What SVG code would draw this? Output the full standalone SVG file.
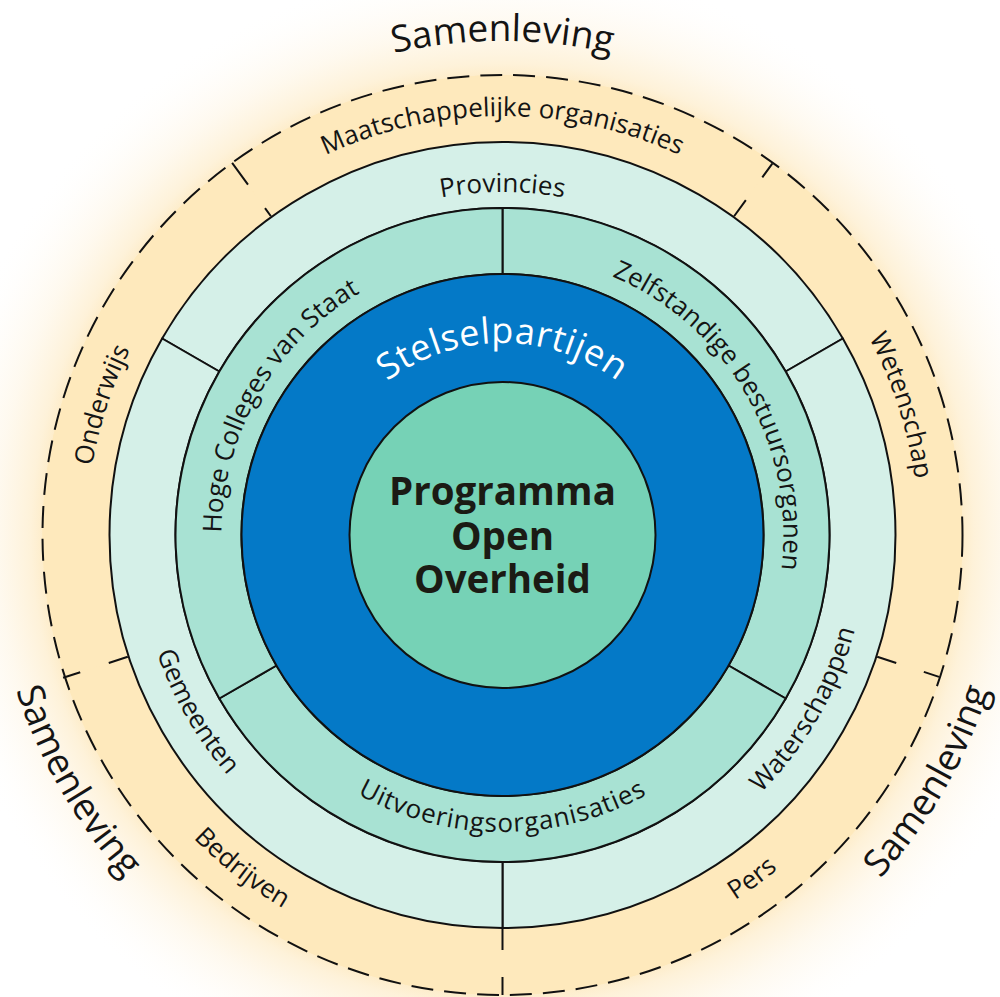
<svg xmlns="http://www.w3.org/2000/svg" width="1000" height="997" viewBox="0 0 1000 997">
  <defs>
    <radialGradient id="glow" cx="502.5" cy="535" r="575" gradientUnits="userSpaceOnUse">
      <stop offset="0.79" stop-color="#fde7ba" stop-opacity="0.85"/>
      <stop offset="0.82" stop-color="#fde7ba" stop-opacity="0.55"/>
      <stop offset="0.88" stop-color="#fdeac4" stop-opacity="0.28"/>
      <stop offset="0.95" stop-color="#fdf0d8" stop-opacity="0.08"/>
      <stop offset="1" stop-color="#ffffff" stop-opacity="0"/>
    </radialGradient>
    <!-- text arcs around centre (502.5, 535); clockwise = tops outward, counter-clockwise = tops inward -->
    <path id="arc-sam-top" d="M16.01,449.22 A494,494 0 0 1 988.99,449.22"/>
    <path id="arc-sam-right" d="M326.36,1018.94 A516,516 0 0 0 833.54,140.49"/>
    <path id="arc-sam-left" d="M171.46,140.49 A516,516 0 0 0 678.64,1018.94"/>
    <path id="arc-stelsel" d="M313.42,501.66 A192,192 0 0 1 691.58,501.66"/>
    <path id="arc-maatsch" d="M89.87,462.24 A419,419 0 0 1 915.13,462.24"/>
    <path id="arc-onderwijs" d="M307.20,902.31 A416,416 0 0 1 560.40,123.05"/>
    <path id="arc-wetenschap" d="M444.60,123.05 A416,416 0 0 1 697.80,902.31"/>
    <path id="arc-pers" d="M201.71,846.47 A433,433 0 0 0 891.68,345.19"/>
    <path id="arc-bedrijven" d="M120.18,331.72 A433,433 0 0 0 792.23,856.78"/>
    <path id="arc-provincies" d="M164.71,475.44 A343,343 0 0 1 840.29,475.44"/>
    <path id="arc-gemeenten" d="M267.88,255.39 A365,365 0 0 0 627.34,877.99"/>
    <path id="arc-waterschappen" d="M377.66,877.99 A365,365 0 0 0 737.12,255.39"/>
    <path id="arc-zbo" d="M406.39,270.95 A281,281 0 0 1 683.12,750.26"/>
    <path id="arc-hcvs" d="M321.88,750.26 A281,281 0 0 1 598.61,270.95"/>
    <path id="arc-uitvoering" d="M210.01,586.57 A297,297 0 0 0 794.99,586.57"/>
  </defs>
  <style>
    .lbl { font-family: "Open Sans", "Noto Sans", "DejaVu Sans", sans-serif; font-size: 26px; fill: #141414; }
    .wide { letter-spacing: 0.8px; }
    .sam { font-size: 37px; }
    .stelsel { font-size: 36px; fill: #ffffff; letter-spacing: 0.6px; }
    .core { font-family: "Open Sans", "Noto Sans", "DejaVu Sans", sans-serif; font-weight: 700; font-size: 38.5px; fill: #1b1b14; text-anchor: middle; }
    .outer { fill: #fee9bc; }
    .light { fill: #d5f0e8; stroke: #111; stroke-width: 2; stroke-linejoin: round; }
    .mid { fill: #a8e2d3; stroke: #111; stroke-width: 2; stroke-linejoin: round; }
    .blue { fill: #0479c7; stroke: #111; stroke-width: 2; }
    .core-disc { fill: #76d2b6; stroke: #111; stroke-width: 2; }
    .dash { stroke: #111; stroke-width: 2; fill: none; }
  </style>

  <rect width="1000" height="997" fill="#ffffff"/>

  <!-- soft halo around the society ring -->
  <circle cx="502.5" cy="535" r="575" fill="url(#glow)"/>

  <!-- society ring (orange) -->
  <circle cx="502.5" cy="535" r="460" class="outer"/>
  <g id="maatschappelijke-organisaties">
    <path class="outer" d="M232.12,162.85 A460,460 0 0 1 772.88,162.85 L733.50,217.06 A393,393 0 0 0 271.50,217.06 Z"/>
    <text class="lbl"><textPath href="#arc-maatsch" startOffset="50%" text-anchor="middle">Maatschappelijke organisaties</textPath></text>
  </g>
  <g id="wetenschap">
    <path class="outer" d="M772.88,162.85 A460,460 0 0 1 939.99,677.15 L876.27,656.44 A393,393 0 0 0 733.50,217.06 Z"/>
    <text class="lbl"><textPath href="#arc-wetenschap" startOffset="50%" text-anchor="middle">Wetenschap</textPath></text>
  </g>
  <g id="pers">
    <path class="outer" d="M939.99,677.15 A460,460 0 0 1 502.5,995 L502.5,928 A393,393 0 0 0 876.27,656.44 Z"/>
    <text class="lbl"><textPath href="#arc-pers" startOffset="50%" text-anchor="middle">Pers</textPath></text>
  </g>
  <g id="bedrijven">
    <path class="outer" d="M502.5,995 A460,460 0 0 1 65.01,677.15 L128.73,656.44 A393,393 0 0 0 502.5,928 Z"/>
    <text class="lbl"><textPath href="#arc-bedrijven" startOffset="50%" text-anchor="middle">Bedrijven</textPath></text>
  </g>
  <g id="onderwijs">
    <path class="outer" d="M65.01,677.15 A460,460 0 0 1 232.12,162.85 L271.50,217.06 A393,393 0 0 0 128.73,656.44 Z"/>
    <text class="lbl"><textPath href="#arc-onderwijs" startOffset="50%" text-anchor="middle">Onderwijs</textPath></text>
  </g>

  <!-- dashed boundary and dashed sector dividers -->
  <g id="connectors">
    <circle cx="502.5" cy="535" r="460" class="dash" stroke-dasharray="22 11"/>
    <path class="dash" d="M232.12,162.85 L247.99,184.70 M265.03,208.16 L270.91,216.25"/>
    <path class="dash" d="M772.29,163.66 L762.30,177.41 M745.84,200.07 L734.09,216.25"/>
    <path class="dash" d="M877.22,656.75 L896.24,662.93 M923.82,671.90 L939.04,676.84"/>
    <path class="dash" d="M502.5,928 L502.5,950 M502.5,977 L502.5,995"/>
    <path class="dash" d="M63.11,677.77 L80.23,672.20 M108.76,662.93 L127.78,656.75"/>
  </g>

  <!-- government tier (light green) -->
  <g id="provincies">
    <path class="light" d="M162.15,338.5 A393,393 0 0 1 842.85,338.5 L785.69,371.5 A327,327 0 0 0 219.31,371.5 Z"/>
    <text class="lbl"><textPath href="#arc-provincies" startOffset="50%" text-anchor="middle">Provincies</textPath></text>
  </g>
  <g id="waterschappen">
    <path class="light" d="M842.85,338.5 A393,393 0 0 1 502.5,928 L502.5,862 A327,327 0 0 0 785.69,371.5 Z"/>
    <text class="lbl"><textPath href="#arc-waterschappen" startOffset="50%" text-anchor="middle">Waterschappen</textPath></text>
  </g>
  <g id="gemeenten">
    <path class="light" d="M502.5,928 A393,393 0 0 1 162.15,338.5 L219.31,371.5 A327,327 0 0 0 502.5,862 Z"/>
    <text class="lbl"><textPath href="#arc-gemeenten" startOffset="50%" text-anchor="middle">Gemeenten</textPath></text>
  </g>

  <!-- central-government tier (mid green) -->
  <g id="zelfstandige-bestuursorganen">
    <path class="mid" d="M502.5,208 A327,327 0 0 1 785.69,698.5 L728.53,665.5 A261,261 0 0 0 502.5,274 Z"/>
    <text class="lbl"><textPath href="#arc-zbo" startOffset="50%" text-anchor="middle">Zelfstandige bestuursorganen</textPath></text>
  </g>
  <g id="uitvoeringsorganisaties">
    <path class="mid" d="M785.69,698.5 A327,327 0 0 1 219.31,698.5 L276.47,665.5 A261,261 0 0 0 728.53,665.5 Z"/>
    <text class="lbl wide"><textPath href="#arc-uitvoering" startOffset="50%" text-anchor="middle">Uitvoeringsorganisaties</textPath></text>
  </g>
  <g id="hoge-colleges-van-staat">
    <path class="mid" d="M219.31,698.5 A327,327 0 0 1 502.5,208 L502.5,274 A261,261 0 0 0 276.47,665.5 Z"/>
    <text class="lbl"><textPath href="#arc-hcvs" startOffset="50%" text-anchor="middle">Hoge Colleges van Staat</textPath></text>
  </g>

  <!-- system parties (blue) -->
  <g id="stelselpartijen">
    <circle cx="502.5" cy="535" r="261" class="blue"/>
    <text class="lbl stelsel"><textPath href="#arc-stelsel" startOffset="50%" text-anchor="middle">Stelselpartijen</textPath></text>
  </g>

  <!-- core programme -->
  <g id="programma-open-overheid">
    <circle cx="502.5" cy="535" r="153" class="core-disc"/>
    <text class="core" x="502.5" y="505">Programma</text>
    <text class="core" x="502.5" y="550">Open</text>
    <text class="core" x="502.5" y="593">Overheid</text>
  </g>

  <!-- society labels outside the ring -->
  <g id="samenleving">
    <text class="lbl sam"><textPath href="#arc-sam-top" startOffset="50%" text-anchor="middle">Samenleving</textPath></text>
    <text class="lbl sam"><textPath href="#arc-sam-left" startOffset="50%" text-anchor="middle">Samenleving</textPath></text>
    <text class="lbl sam"><textPath href="#arc-sam-right" startOffset="50%" text-anchor="middle">Samenleving</textPath></text>
  </g>
</svg>
